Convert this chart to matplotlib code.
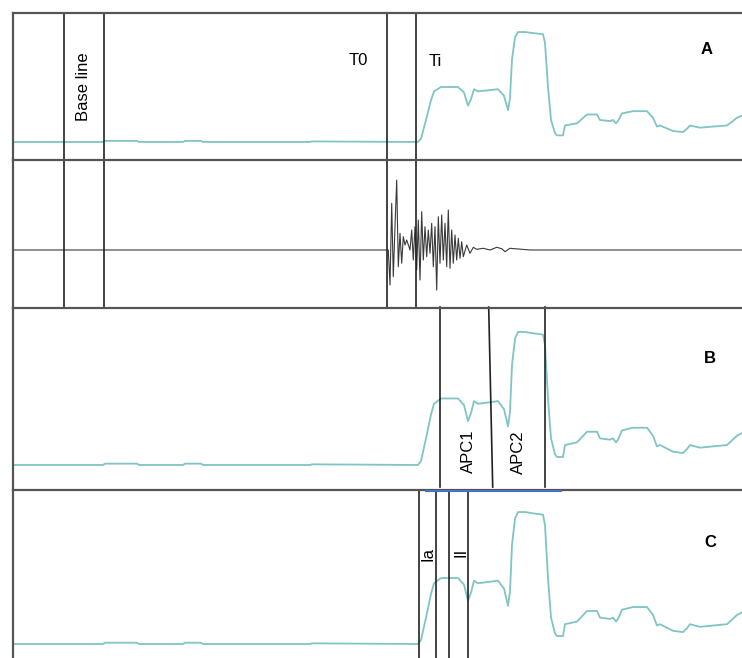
import matplotlib
matplotlib.use("Agg")
import matplotlib.pyplot as plt

# =========================
# data
# =========================
# main trace (same signal drawn in panels A, B and C), level normalised to the peak
t_traza = [0, 90, 92, 124, 126, 170, 172, 188, 190, 297,
           299, 405, 408, 413, 418, 421, 428, 445, 451, 455,
           458, 461, 465, 485, 491, 495, 497, 499, 502, 505,
           512, 520, 530, 532, 535, 538, 542, 544, 550, 552,
           564, 574, 584, 587, 597, 600, 603, 605, 609, 620,
           634, 640, 644, 647, 660, 670, 674, 677, 687, 700,
           714, 724, 729]
nivel = [0, 0, .01, .01, 0, 0, .01, .01, 0, 0,
         .005, 0, .03, .2, .38, .46, .5, .5, .45, .33,
         .39, .48, .46, .48, .42, .29, .40, .75, .95, 1.0,
         1.0, .99, .98, .9, .5, .2, .08, .06, .06, .15,
         .17, .25, .25, .2, .19, .2, .17, .19, .26, .28,
         .28, .22, .14, .15, .1, .09, .12, .15, .13, .14,
         .15, .22, .24]

# vibration / wiggle trace
t_onda = [0, 375.3, 377, 378.7, 380.3, 382, 383.7, 385.3, 387, 388.7,
          390.3, 392, 393.7, 397, 398.7, 400.3, 402, 403.7, 405.3, 407,
          408.7, 410.3, 412, 413.7, 415.3, 417, 418.7, 420.3, 422, 423.7,
          425.3, 427, 428.7, 430.3, 432, 433.7, 435.3, 437, 438.7, 440.3,
          442, 443.7, 445.3, 447, 448.7, 450.3, 453.7, 457, 460.3, 463.7,
          470.3, 477, 483.7, 488.7, 492, 497, 517, 729]
amp_onda = [0, 0, -35, 46.7, -26.7, 23.3, 70, -16.7, 16.7, -13.3,
            13.3, 5, 10, 0, 20, -10, 23.3, -20, 30, -30,
            38.3, -10, 23.3, -6.7, 20, -3.3, 26.7, -16.7, 23.3, -40,
            33.3, -13.3, 35, -10, 26.7, -16.7, 40, -18.3, 20, -13.3,
            15, -10, 11.7, -8.3, 8.3, -6.7, 5, -3.3, 2.7, 0.7,
            1.7, 0, 2.7, 1.3, -1.7, 1.7, 0, 0]

# markers
t_baseline = [51, 91]
t_t0, t_ti = 374, 403
t_apc = [427, 475.7, 532]
t_apc_inclinada = 479.7
t_fases = [406, 423, 436, 455]
t_azul = [413, 548]

# =========================
# figure
# =========================
fig = plt.figure(figsize=(7.42, 6.58), dpi=100)
plt.rcParams['font.family'] = ['Liberation Sans', 'DejaVu Sans']

W, H = 742, 658
izq = 13 / W
bordes = [13, 160, 308, 490, 658]  # pixel rows of the panel borders
ejes = []
for i in range(4):
    y0 = 1 - bordes[i + 1] / H
    h = (bordes[i + 1] - bordes[i]) / H
    ax = fig.add_axes([izq, y0, 1 - izq, h])
    ax.set_xlim(0, 729)
    ax.set_xticks([])
    ax.set_yticks([])
    for lado in ['right', 'bottom']:
        ax.spines[lado].set_visible(False)
    for lado in ['left', 'top']:
        ax.spines[lado].set_color('#555555')
        ax.spines[lado].set_linewidth(1.6)
    ejes.append(ax)

ax_a, ax_w, ax_b, ax_c = ejes
color_traza = '#80c4c4'
color_linea = '#222222'

# panel A
ax_a.plot(t_traza, nivel, color=color_traza, lw=1.3)
ax_a.set_ylim(-0.164, 1.173)

# wiggle panel
ax_w.plot(t_onda, amp_onda, color='#3a3a3a', lw=0.8)
ax_w.set_ylim(-58, 90)

# panel B
ax_b.plot(t_traza, nivel, color=color_traza, lw=1.3)
ax_b.set_ylim(-0.188, 1.18)

# panel C
ax_c.plot(t_traza, nivel, color=color_traza, lw=1.3)
ax_c.set_ylim(-0.106, 1.167)

# vertical markers
for ax in [ax_a, ax_w]:
    for t in t_baseline:
        ax.axvline(t, color=color_linea, lw=1.2)
ax_a.axvline(t_t0, color=color_linea, lw=1.2)
ax_a.axvline(t_ti, color=color_linea, lw=1.2)
for t in [t_t0, t_ti]:
    ax_w.axvline(t, ymin=-0.02, ymax=1, color=color_linea, lw=1.2, clip_on=False)

tr_b = ax_b.get_xaxis_transform()
ax_b.plot([t_apc[0], t_apc[0]], [1.005, 0.016], transform=tr_b,
          color=color_linea, lw=1.2, clip_on=False)
ax_b.plot([t_apc[1], t_apc_inclinada], [1.005, 0.016], transform=tr_b,
          color=color_linea, lw=1.2, clip_on=False)
ax_b.plot([t_apc[2], t_apc[2]], [1.005, 0.016], transform=tr_b,
          color=color_linea, lw=1.2, clip_on=False)

for t in t_fases:
    ax_c.axvline(t, color=color_linea, lw=1.2)
tr_c = ax_c.get_xaxis_transform()
ax_c.plot(t_azul, [0.994, 0.994], transform=tr_c, color='#4472c4',
          lw=1.5, clip_on=False, zorder=5)

# labels
tr_a = ax_a.get_xaxis_transform()
ax_a.text(71, 0.50, 'Base line', transform=tr_a, rotation=90,
          ha='center', va='center', fontsize=12)
ax_a.text(345, 0.68, 'T0', transform=tr_a, ha='center', va='center', fontsize=12)
ax_a.text(422, 0.67, 'Ti', transform=tr_a, ha='center', va='center', fontsize=12)
ax_a.text(694, 0.75, 'A', transform=tr_a, ha='center', va='center',
          fontsize=12, fontweight='bold')

ax_b.text(455, 0.214, 'APC1', transform=tr_b, rotation=90,
          ha='center', va='center', fontsize=12)
ax_b.text(505, 0.209, 'APC2', transform=tr_b, rotation=90,
          ha='center', va='center', fontsize=12)
ax_b.text(697, 0.72, 'B', transform=tr_b, ha='center', va='center',
          fontsize=12, fontweight='bold')

ax_c.text(415, 0.62, 'Ia', transform=tr_c, rotation=90,
          ha='center', va='center', fontsize=12)
ax_c.text(448, 0.63, 'II', transform=tr_c, rotation=90,
          ha='center', va='center', fontsize=12)
ax_c.text(697, 0.69, 'C', transform=tr_c, ha='center', va='center',
          fontsize=12, fontweight='bold')

fig.savefig('out.png', dpi=100)
plt.close(fig)
